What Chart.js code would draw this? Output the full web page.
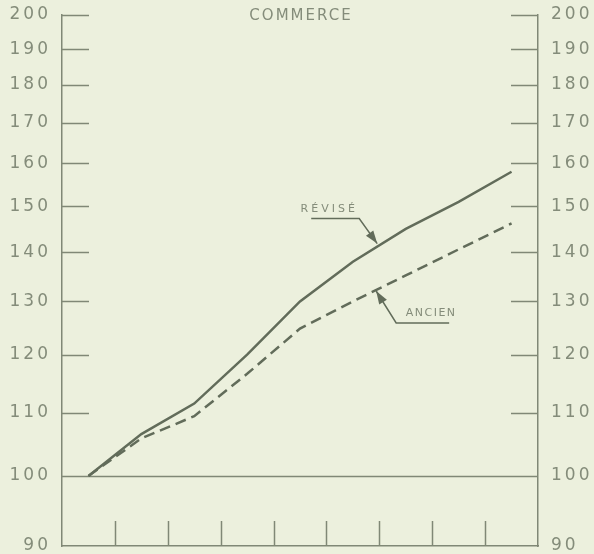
<!DOCTYPE html>
<html>
<head>
<meta charset="utf-8">
<script src="https://cdn.jsdelivr.net/npm/chart.js@4"></script>
<style>
  body { margin: 0; background: #ecf0dd; }
  canvas { display: block; }
</style>
</head>
<body>
<canvas id="chart" width="594" height="554"></canvas>
<script>
'use strict';

// periods along the x axis (no labels printed on the original)
let periods = [ '1', '2', '3', '4', '5', '6', '7', '8', '9' ];
let revised = [ 100, 106.5, 111.5, 120, 130, 138, 145, 151, 158 ];
let ancien = [ 100, 105.8, 109.4, 116.6, 124.8, 130, 135.2, 140.6, 146.2 ];
let yTicks = [ 90, 100, 110, 120, 130, 140, 150, 160, 170, 180, 190, 200 ];
let baseLine = 100;

const lineColor = 'rgb(98, 108, 90)';
const axisColor = 'rgb(128, 136, 118)';
const textColor = 'rgb(132, 140, 122)';
const font = 'DejaVu Sans';

function pointAt ( chart, dsIndex, idx ) {
  const pts = chart.getDatasetMeta( dsIndex ).data;
  const i0 = Math.floor( idx );
  const f = idx - i0;
  return {
    x: pts[i0].x + ( pts[i0 + 1].x - pts[i0].x ) * f,
    y: pts[i0].y + ( pts[i0 + 1].y - pts[i0].y ) * f
  };
}

// leader line with an underline and a filled arrow head at the tip
function callout ( ctx, tip, dx, dy, ulen ) {
  const elbow = { x: tip.x + dx, y: tip.y + dy };
  ctx.beginPath();
  ctx.moveTo( tip.x, tip.y );
  ctx.lineTo( elbow.x, elbow.y );
  ctx.lineTo( elbow.x + ulen, elbow.y );
  ctx.stroke();

  const ang = Math.atan2( tip.y - elbow.y, tip.x - elbow.x );
  const len = 13;
  const w = 4.5;
  ctx.beginPath();
  ctx.moveTo( tip.x, tip.y );
  ctx.lineTo( tip.x - len * Math.cos( ang ) + w * Math.sin( ang ), tip.y - len * Math.sin( ang ) - w * Math.cos( ang ) );
  ctx.lineTo( tip.x - len * Math.cos( ang ) - w * Math.sin( ang ), tip.y - len * Math.sin( ang ) + w * Math.cos( ang ) );
  ctx.closePath();
  ctx.fill();
}

const decorations = {
  id: 'decorations',
  beforeDraw ( chart ) {
    // wide spacing for the axis numbers
    chart.ctx.letterSpacing = '3px';
  },
  beforeDatasetsDraw ( chart ) {
    const ctx = chart.ctx;
    ctx.letterSpacing = '0px';
    const area = chart.chartArea;
    const y = chart.scales.y;
    const x = chart.scales.x;
    ctx.save();
    ctx.strokeStyle = axisColor;
    ctx.lineWidth = 1.5;
    ctx.beginPath();
    for ( let i = 0; i < yTicks.length; i++ ) {
      if ( yTicks[i] === y.min ) continue;
      const py = Math.round( y.getPixelForValue( yTicks[i] ) ) + 0.5;
      if ( yTicks[i] === baseLine ) {
        ctx.moveTo( area.left, py );
        ctx.lineTo( area.right, py );
      } else {
        ctx.moveTo( area.left, py );
        ctx.lineTo( area.left + 27, py );
        ctx.moveTo( area.right - 27, py );
        ctx.lineTo( area.right, py );
      }
    }
    for ( let i = 1; i < periods.length; i++ ) {
      const px = Math.round( x.getPixelForValue( i - 0.5 ) ) + 0.5;
      ctx.moveTo( px, area.bottom );
      ctx.lineTo( px, area.bottom - 25 );
    }
    ctx.stroke();
    ctx.restore();
  },
  afterDatasetsDraw ( chart ) {
    const ctx = chart.ctx;
    const area = chart.chartArea;
    ctx.save();
    ctx.fillStyle = textColor;
    ctx.textAlign = 'center';
    ctx.textBaseline = 'middle';
    ctx.font = '15px "' + font + '"';
    ctx.letterSpacing = '2px';
    ctx.fillText( 'COMMERCE', ( area.left + area.right ) / 2 + 1, area.top + 1 );

    ctx.strokeStyle = lineColor;
    ctx.lineWidth = 1.5;
    ctx.font = '11px "' + font + '"';

    const t1 = pointAt( chart, 0, 5.46 );
    t1.y -= 3;
    ctx.fillStyle = lineColor;
    callout( ctx, t1, -18, -25, -48 );
    ctx.fillStyle = textColor;
    ctx.letterSpacing = '3px';
    ctx.fillText( 'RÉVISÉ', t1.x - 48, t1.y - 34 );

    const t2 = pointAt( chart, 1, 5.44 );
    t2.y += 1;
    ctx.fillStyle = lineColor;
    callout( ctx, t2, 20, 32, 53 );
    ctx.fillStyle = textColor;
    ctx.letterSpacing = '1.5px';
    ctx.fillText( 'ANCIEN', t2.x + 55, t2.y + 22 );
    ctx.restore();
  }
};

function yAxis ( pos, width, pad ) {
  return {
    type: 'logarithmic',
    position: pos,
    min: 90,
    max: 200,
    afterBuildTicks: ( scale ) => {
      scale.ticks = yTicks.map( v => ( { value: v } ) );
    },
    afterFit: ( scale ) => {
      scale.width = width;
      scale.paddingTop = 0;
      scale.paddingBottom = 0;
    },
    grid: { display: false, drawTicks: false },
    border: { display: true, color: axisColor, width: 1.5 },
    ticks: {
      color: textColor,
      padding: pad,
      font: { family: font, size: 17 },
      callback: ( v ) => String( v )
    }
  };
}

let ctx = document.getElementById( 'chart' ).getContext( '2d' );
let myChart = new Chart( ctx, {
  type: 'line',
  data: {
    labels: periods,
    datasets: [{
      label: 'Révisé',
      data: revised,
      borderColor: lineColor,
      borderWidth: 2.5,
      pointRadius: 0,
      tension: 0,
      yAxisID: 'y'
    }, {
      label: 'Ancien',
      data: ancien,
      borderColor: lineColor,
      borderWidth: 2.5,
      borderDash: [ 11, 6 ],
      pointRadius: 0,
      tension: 0,
      yAxisID: 'y'
    }]
  },
  options: {
    responsive: false,
    animation: false,
    devicePixelRatio: 1,
    layout: { padding: { top: 15, bottom: 8, left: 0, right: 0 } },
    plugins: {
      legend: { display: false },
      tooltip: { enabled: false }
    },
    scales: {
      x: {
        type: 'category',
        offset: true,
        afterFit: ( scale ) => {
          scale.height = 0;
        },
        grid: { display: false, drawTicks: false },
        border: { display: true, color: axisColor, width: 1.5 },
        ticks: { display: false }
      },
      y: yAxis( 'left', 62, 11 ),
      y2: yAxis( 'right', 56, 13 )
    }
  },
  plugins: [ decorations ]
} );
</script>
</body>
</html>
